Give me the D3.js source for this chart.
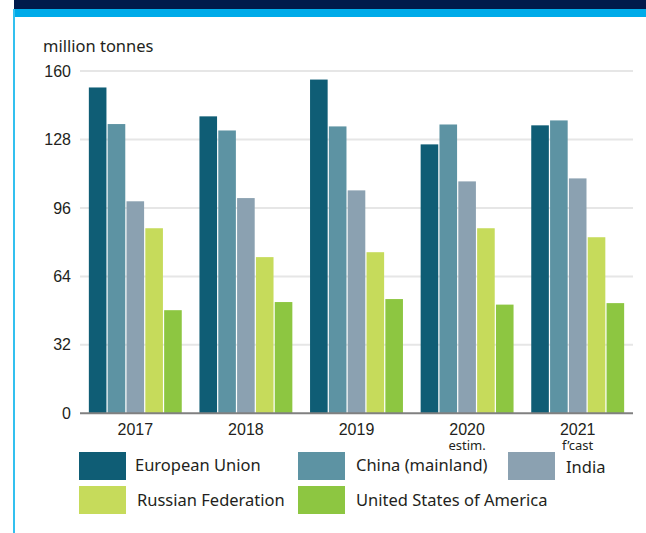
<!DOCTYPE html>
<html>
<head>
<meta charset="utf-8">
<script src="https://cdn.jsdelivr.net/npm/d3@7"></script>
<style>
  body { margin: 0; background: #fff; }
  svg { display: block; font-family: "Noto Sans", "Open Sans", sans-serif; }
</style>
</head>
<body>
<svg width="646" height="533"></svg>
<script>
  // data
  const years = ['2017', '2018', '2019', '2020', '2021'];
  const yearNotes = ['', '', '', 'estim.', 'f\u2019cast'];
  const series = ['European Union', 'China (mainland)', 'India', 'Russian Federation', 'United States of America'];
  const colors = ['#0f5d75', '#5d93a3', '#8ba1b1', '#c6db5b', '#8dc641'];
  const euValues = [152.3, 138.8, 156.0, 125.7, 134.6];
  const chinaValues = [135.2, 132.2, 134.1, 135.0, 136.9];
  const indiaValues = [99.1, 100.6, 104.2, 108.4, 109.8];
  const russiaValues = [86.5, 73.0, 75.3, 86.5, 82.3];
  const usaValues = [48.2, 52.0, 53.4, 50.8, 51.5];
  const yTicks = [0, 32, 64, 96, 128, 160];

  const values = [euValues, chinaValues, indiaValues, russiaValues, usaValues];

  const svg = d3.select('svg');

  // header band + left rule
  svg.append('rect').attr('x', 14).attr('y', 0).attr('width', 632).attr('height', 9).attr('fill', '#001a4b');
  svg.append('rect').attr('x', 14).attr('y', 9).attr('width', 632).attr('height', 8).attr('fill', '#00abe9');
  svg.append('rect').attr('x', 13).attr('y', 9).attr('width', 2).attr('height', 524).attr('fill', '#33c0ef');

  const x0 = 80, x1 = 633;
  const y = d3.scaleLinear().domain([0, 160]).range([413.3, 71]);
  const x = d3.scaleBand().domain(years).range([x0, x1]).paddingInner(0.16).paddingOuter(0.08);
  const xs = d3.scaleBand().domain(series).range([0, x.bandwidth()]).paddingInner(0.065);

  svg.append('text').attr('x', 43).attr('y', 52).attr('font-size', 16.5).attr('fill', '#231f20')
    .text('million tonnes');

  // gridlines
  svg.append('g').selectAll('line').data(yTicks.filter(d => d > 0)).join('line')
    .attr('x1', x0).attr('x2', x1)
    .attr('y1', d => y(d)).attr('y2', d => y(d))
    .attr('stroke', '#e6e6e6').attr('stroke-width', 2);

  // y axis labels
  const yAxis = d3.axisLeft(y).tickValues(yTicks).tickSize(0).tickPadding(9);
  const gy = svg.append('g').attr('transform', `translate(${x0},0)`).call(yAxis);
  gy.select('.domain').remove();
  gy.selectAll('text').attr('font-size', 16).attr('fill', '#231f20').attr('font-family', null);

  // bars
  const rows = [];
  years.forEach((yr, i) => series.forEach((s, j) => rows.push({ yr, s, j, v: values[j][i] })));
  svg.append('g').selectAll('rect').data(rows).join('rect')
    .attr('x', d => x(d.yr) + xs(d.s))
    .attr('width', xs.bandwidth())
    .attr('y', d => y(d.v))
    .attr('height', d => y(0) - y(d.v))
    .attr('fill', d => colors[d.j]);

  // x axis
  const xAxis = d3.axisBottom(x).tickSize(0).tickPadding(10);
  const gx = svg.append('g').attr('transform', `translate(0,${y(0)})`).call(xAxis);
  gx.select('.domain').attr('stroke', '#808080').attr('stroke-width', 2)
    .attr('d', `M${x0},0H${x1}`);
  gx.selectAll('text').attr('font-size', 16).attr('fill', '#231f20').attr('font-family', null);

  svg.append('g').selectAll('text').data(years).join('text')
    .attr('x', d => x(d) + x.bandwidth() / 2)
    .attr('y', 450)
    .attr('text-anchor', 'middle')
    .attr('font-size', 13)
    .attr('fill', '#231f20')
    .text((d, i) => yearNotes[i]);

  // legend
  const legendPos = [
    { sx: 79, tx: 135, row: 0 },
    { sx: 298, tx: 356, row: 0 },
    { sx: 508, tx: 566, row: 0, dy: 2 },
    { sx: 79, tx: 137, row: 1 },
    { sx: 298, tx: 356, row: 1 }
  ];
  const lg = svg.append('g').selectAll('g').data(series).join('g');
  lg.append('rect')
    .attr('x', (d, i) => legendPos[i].sx)
    .attr('y', (d, i) => 452 + legendPos[i].row * 34)
    .attr('width', 47).attr('height', 28)
    .attr('fill', (d, i) => colors[i]);
  lg.append('text')
    .attr('x', (d, i) => legendPos[i].tx)
    .attr('y', (d, i) => 471 + legendPos[i].row * 35 + (legendPos[i].dy || 0))
    .attr('font-size', 16.5)
    .attr('fill', '#231f20')
    .text(d => d);
</script>
</body>
</html>
